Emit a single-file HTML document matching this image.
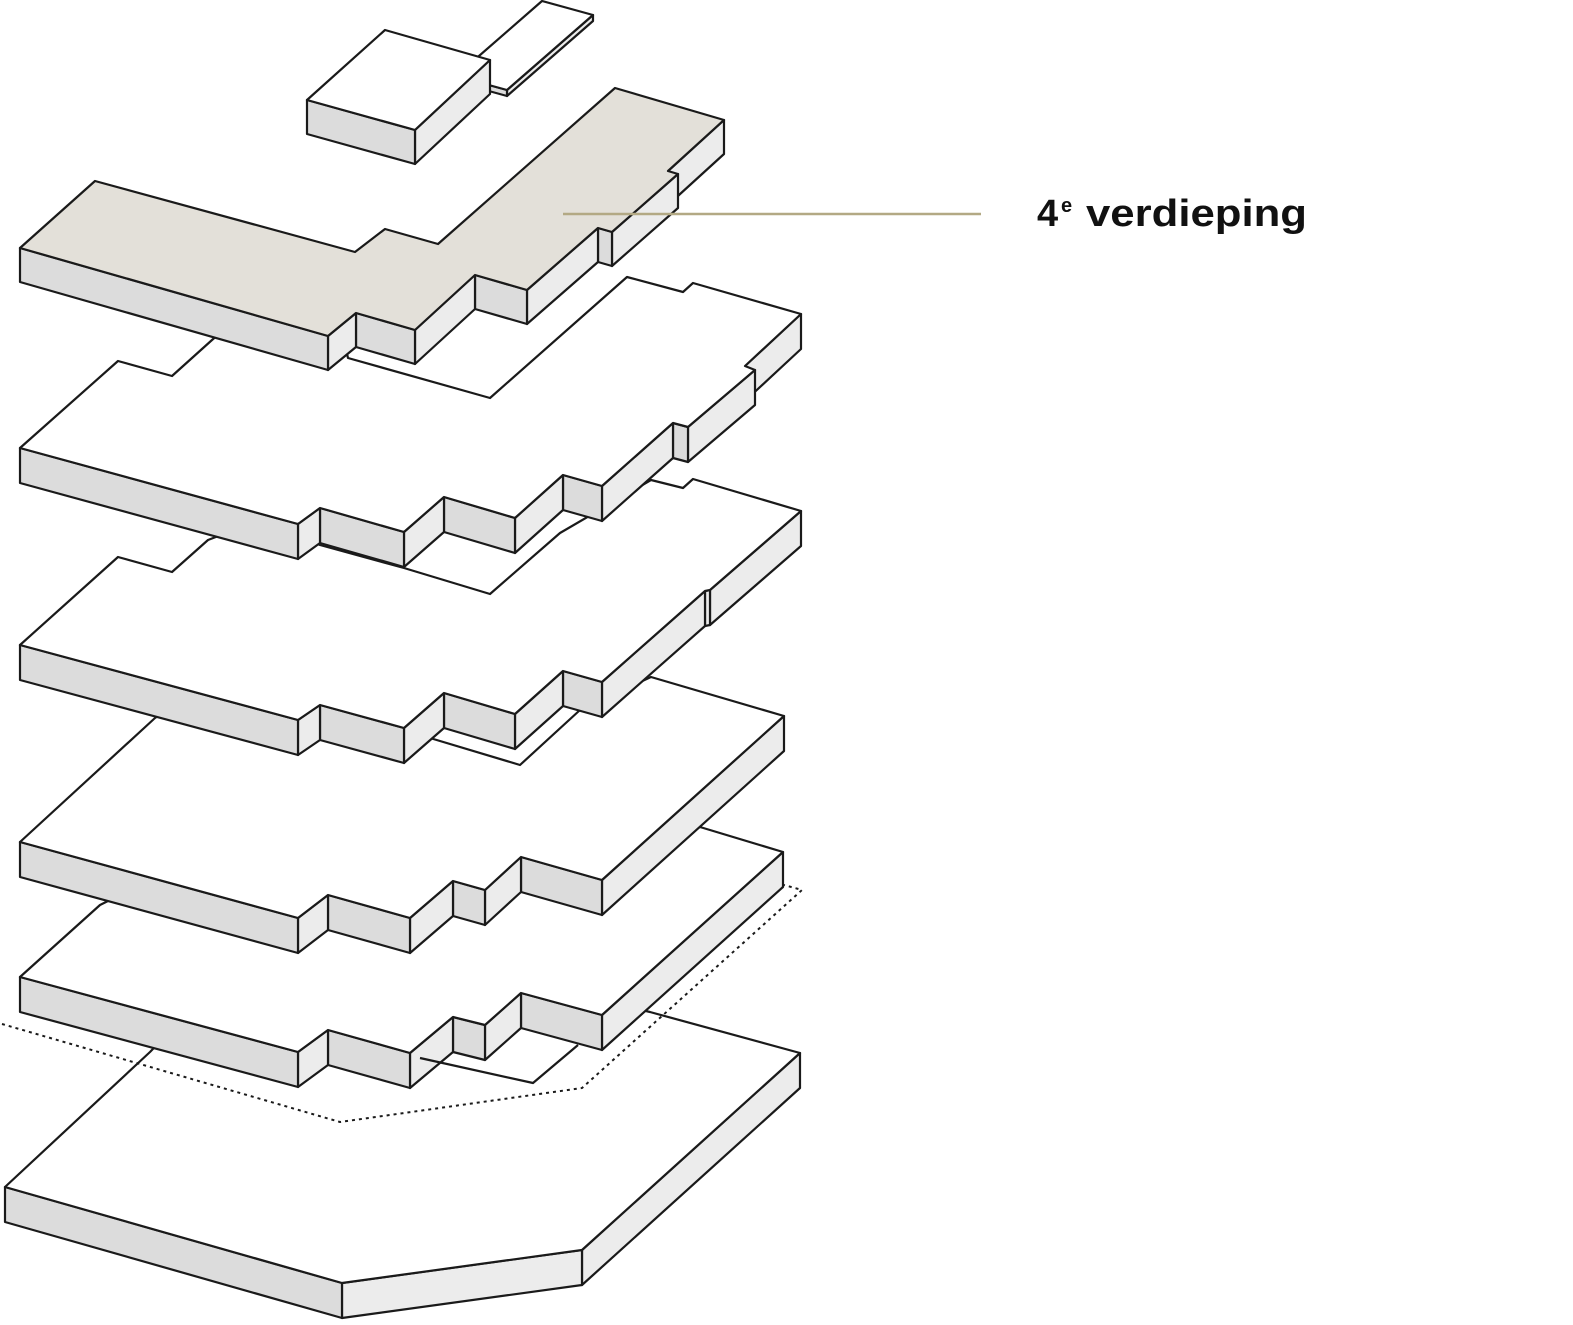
<!DOCTYPE html>
<html><head><meta charset="utf-8"><style>
html,body{margin:0;padding:0;background:#fff;}
svg{display:block;}
</style></head><body>
<svg id="s" width="1573" height="1325" viewBox="0 0 1573 1325" xmlns="http://www.w3.org/2000/svg">
<g id="g" stroke="#1a1a1a" stroke-width="2.2" stroke-linejoin="round"></g>
<line x1="563" y1="214" x2="981" y2="214" stroke="#b3a984" stroke-width="2.5"/>
<text x="1037" y="226" font-family="Liberation Sans, sans-serif" font-weight="bold" font-size="38" fill="#111">4</text>
<text x="1061" y="212" font-family="Liberation Sans, sans-serif" font-weight="bold" font-size="20" fill="#111">e</text>
<text x="1086" y="226" font-family="Liberation Sans, sans-serif" font-weight="bold" font-size="38" fill="#111" textLength="221" lengthAdjust="spacingAndGlyphs">verdieping</text>
</svg>
<script>
var g=document.getElementById('g');var NS='http://www.w3.org/2000/svg';
function poly(pts,fill,extra){var p=document.createElementNS(NS,'polygon');p.setAttribute('points',pts.map(a=>a.join(',')).join(' '));p.setAttribute('fill',fill);if(extra)for(var k in extra)p.setAttribute(k,extra[k]);g.appendChild(p);}
function line(pts,extra){var p=document.createElementNS(NS,'polyline');p.setAttribute('points',pts.map(a=>a.join(',')).join(' '));p.setAttribute('fill','none');if(extra)for(var k in extra)p.setAttribute(k,extra[k]);g.appendChild(p);}
function slab(chain,back,h,topFill){
 for(var i=chain.length-2;i>=0;i--){var a=chain[i],b=chain[i+1];
  if(b[0]<=a[0]) continue;
  var c=(b[1]>a[1])?'#dcdcdc':'#ececec';
  poly([a,b,[b[0],b[1]+h],[a[0],a[1]+h]],c);}
 poly(chain.concat(back),topFill);
}
slab([[5,1187],[342,1283],[582,1250],[800,1053]],[[650,1012],[600,1000],[200,1000],[150,1052]],35,'#fff');
line([[2,1024],[340,1122],[582,1088],[802,890],[784,885]],{'stroke-dasharray':'3,4','stroke-width':'2'});
slab([[20,977],[298,1052],[328,1030],[410,1053],[453,1017],[485,1025],[521,993],[602,1015],[783,852]],[[700,827],[150,880],[100,905]],35,'#fff');
line([[420,1058],[533,1083],[578,1045]]);
slab([[20,842],[298,918],[328,895],[410,918],[453,881],[485,890],[521,857],[602,880],[784,716]],[[651,677],[580,710],[520,765],[430,738],[200,690],[155,718]],35,'#fff');
slab([[20,645],[298,720],[320,705],[404,728],[444,693],[515,714],[563,671],[602,682],[705,591],[710,590],[801,511]],[[693,479],[683,488],[651,480],[560,533],[490,594],[404,568],[320,545],[260,520],[208,540],[172,572],[118,557]],35,'#fff');
slab([[20,448],[298,524],[320,508],[404,532],[444,497],[515,518],[563,475],[602,486],[673,423],[688,427],[755,370],[745,366],[801,314]],[[693,283],[683,292],[627,277],[490,398],[348,358],[345,345],[240,315],[212,340],[172,376],[118,361]],35,'#fff');
slab([[20,248],[328,336],[356,313],[415,330],[475,275],[527,290],[598,228],[612,232],[678,174],[668,171],[724,120]],[[615,88],[438,244],[385,229],[355,252],[95,181]],34,'#e3e0d9');
slab([[456,76],[507,90],[593,15]],[[542,1]],6,'#fff');
slab([[307,100],[415,130],[490,60]],[[385,30]],34,'#fff');
</script>
</body></html>
